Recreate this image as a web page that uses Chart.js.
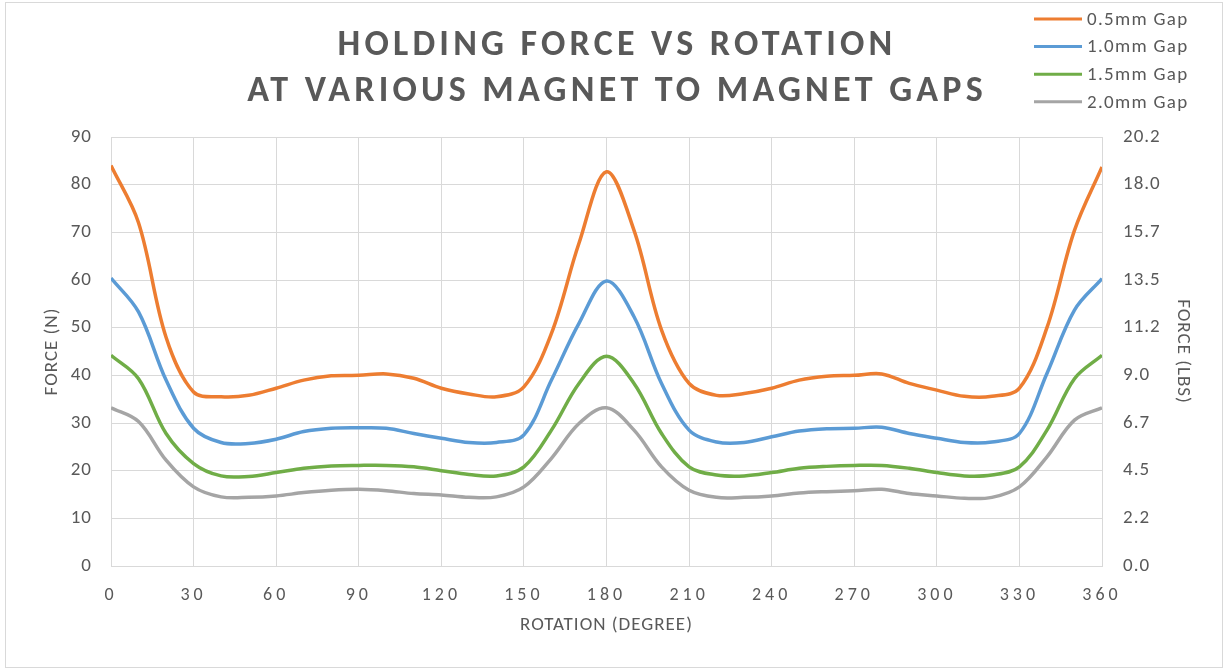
<!DOCTYPE html>
<html>
<head>
<meta charset="utf-8">
<script src="https://cdn.jsdelivr.net/npm/chart.js@4.4.1/dist/chart.umd.min.js"></script>
<style>
  html, body { margin: 0; padding: 0; background: #fff; }
  #wrap { width: 1225px; height: 671px; position: relative; }
</style>
</head>
<body>
<div id="wrap"><canvas id="chart"></canvas></div>
<script>
// rotation in degrees
var angles = [0,10,20,30,40,50,60,70,80,90,100,110,120,130,140,150,160,170,180,
              190,200,210,220,230,240,250,260,270,280,290,300,310,320,330,340,350,360];

var gap05 = [84,72,48,36.5,35.5,35.8,37.3,39,39.9,40,40.3,39.4,37.3,36.1,35.5,37.6,48.8,67.7,82.7,
             70.4,49.5,38.3,35.8,36.2,37.3,39,39.8,40,40.3,38.3,36.9,35.6,35.6,37.3,50,70.4,83.7];
var gap10 = [60.4,53.3,39,28.9,25.9,25.7,26.6,28.2,28.9,29,28.9,27.8,26.8,25.9,25.9,27.5,39,50.9,59.8,
             52.3,38.3,28.5,26,25.9,27.1,28.3,28.8,28.9,29.1,27.8,26.8,25.9,26,27.8,40.4,53.7,60.3];
var gap15 = [44.2,39.3,27.8,21.5,18.9,18.8,19.6,20.5,21,21.1,21.1,20.8,20,19.2,18.9,20.8,28.5,38.3,44,
             38.3,27.8,20.8,19.1,18.9,19.6,20.5,20.9,21.1,21.1,20.5,19.6,18.9,19.1,20.8,28.5,39.3,44.2];
var gap20 = [33.2,30.3,22.2,16.6,14.5,14.4,14.7,15.4,15.9,16.1,15.8,15.2,14.9,14.4,14.5,16.6,22.6,29.9,33.2,
             28.5,20.8,15.9,14.4,14.4,14.7,15.3,15.6,15.8,16.1,15.2,14.7,14.2,14.4,16.6,22.9,30.6,33.2];

var seriesNames = ['0.5mm Gap','1.0mm Gap','1.5mm Gap','2.0mm Gap'];
var seriesColors = ['#ED7D31','#5B9BD5','#70AD47','#A5A5A5'];
var lbsTicks = ['0.0','2.2','4.5','6.7','9.0','11.2','13.5','15.7','18.0','20.2'];
var titleLines = ['HOLDING FORCE VS ROTATION','AT VARIOUS MAGNET TO MAGNET GAPS'];

var FONT = 'Carlito, Lato, sans-serif';
var TEXT = '#595959';
var GRID = '#D9D9D9';

function pts(vals){
  return vals.map(function(v, i){ return {x: angles[i], y: v}; });
}

var datasets = [gap05, gap10, gap15, gap20].map(function(vals, i){
  return {
    label: seriesNames[i],
    data: pts(vals),
    borderColor: seriesColors[i],
    backgroundColor: seriesColors[i],
    borderWidth: 3.5,
    pointRadius: 0,
    tension: 0.35,
    fill: false
  };
});

function spacing(ctx, px){
  if ('letterSpacing' in ctx) ctx.letterSpacing = px;
}

// a little letter spacing on all text, more on the x tick labels
var spaced = {
  id: 'spaced',
  beforeUpdate: function(chart){ spacing(chart.ctx, '1px'); },
  beforeDraw: function(chart){ spacing(chart.ctx, '1px'); },
  afterLayout: function(chart){
    var s = chart.scales.x;
    if (s && !s._wide) {
      var orig = s.drawLabels;
      s.drawLabels = function(area){
        this.ctx.save();
        spacing(this.ctx, '4px');
        orig.call(this, area);
        this.ctx.restore();
      };
      s._wide = true;
    }
  }
};

// title, legend at top right, outer border
var decor = {
  id: 'decor',
  afterDraw: function(chart){
    var ctx = chart.ctx;
    ctx.save();
    ctx.strokeStyle = GRID;
    ctx.lineWidth = 1;
    ctx.strokeRect(5.5, 2.5, 1217, 665);

    ctx.fillStyle = TEXT;
    ctx.font = 'bold 36px ' + FONT;
    ctx.textAlign = 'center';
    ctx.textBaseline = 'middle';
    spacing(ctx, '4.2px');
    ctx.fillText(titleLines[0], 617, 46);
    ctx.fillText(titleLines[1], 617, 92);

    spacing(ctx, '1.3px');
    ctx.font = '19px ' + FONT;
    ctx.textAlign = 'left';
    chart.data.datasets.forEach(function(ds, i){
      var y = 19 + i * 27.6;
      ctx.strokeStyle = ds.borderColor;
      ctx.lineWidth = 3;
      ctx.beginPath();
      ctx.moveTo(1034, y);
      ctx.lineTo(1082, y);
      ctx.stroke();
      ctx.fillStyle = TEXT;
      ctx.fillText(ds.label, 1087, y + 1);
    });
    ctx.restore();
  }
};

new Chart(document.getElementById('chart'), {
  type: 'line',
  data: { datasets: datasets },
  plugins: [spaced, decor],
  options: {
    responsive: true,
    maintainAspectRatio: false,
    animation: false,
    layout: { padding: { top: 137, left: 37, right: 27, bottom: 30 } },
    plugins: {
      legend: { display: false },
      title: { display: false },
      tooltip: { enabled: false }
    },
    scales: {
      x: {
        type: 'linear',
        min: 0, max: 360,
        ticks: { stepSize: 30, color: TEXT, font: { family: FONT, size: 18 }, padding: 19, maxRotation: 0 },
        grid: { color: GRID, drawTicks: false },
        border: { color: GRID },
        title: { display: true, text: 'ROTATION (DEGREE)', color: TEXT, font: { family: FONT, size: 19 } },
        afterFit: function(s){ s.height = 75; }
      },
      y: {
        position: 'left',
        min: 0, max: 90,
        ticks: { stepSize: 10, color: TEXT, font: { family: FONT, size: 19 }, padding: 19 },
        grid: { color: GRID, drawTicks: false },
        border: { display: false },
        title: { display: true, text: 'FORCE (N)', color: TEXT, font: { family: FONT, size: 19 } },
        afterFit: function(s){ s.width = 74; }
      },
      y2: {
        position: 'right',
        min: 0, max: 90,
        ticks: {
          stepSize: 10, color: TEXT, font: { family: FONT, size: 19 }, padding: 21,
          callback: function(v, i){ return lbsTicks[i]; }
        },
        grid: { display: false, drawTicks: false },
        border: { display: false },
        title: { display: true, text: 'FORCE (LBS)', color: TEXT, font: { family: FONT, size: 19 } },
        afterFit: function(s){ s.width = 96; }
      }
    }
  }
});
</script>
</body>
</html>
